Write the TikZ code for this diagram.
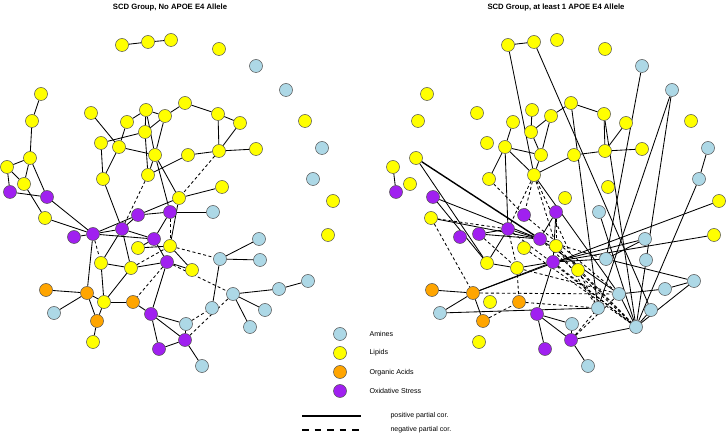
\documentclass[tikz,border=0pt]{standalone}
\usepackage{fontspec}
\setmainfont{Liberation Sans}
\pgfdeclarelayer{bg}
\pgfsetlayers{bg,main}
\definecolor{amn}{HTML}{ADD8E6}
\definecolor{lip}{HTML}{FFFF00}
\definecolor{org}{HTML}{FFA500}
\definecolor{oxs}{HTML}{A020F0}
\definecolor{rim}{HTML}{505050}
\tikzset{
  nd/.style={circle,draw=rim,line width=0.5pt,minimum size=13pt,inner sep=0pt},
  edge/.style={black,line width=0.85pt},
  nedge/.style={black,line width=0.85pt,dash pattern=on 3pt off 2.5pt},
  ttl/.style={font=\bfseries\fontsize{7.7}{8}\selectfont,anchor=north},
  leg/.style={font=\fontsize{7.1}{8}\selectfont,anchor=west},
  legs/.style={font=\fontsize{7}{8}\selectfont,anchor=west}
}
\newcommand\placenodes[1]{%
  \foreach \n/\x/\y/\c in {T1/122/45/lip,T2/148/42/lip,T3/171/40/lip,T4/219/49/lip,
    BTa/256/66/amn,BTb/286/90/amn,YIa/305/121/lip,BBa/322/148/amn,BBb/313/179/amn,
    YRa/333/201/lip,YRb/328/235/lip,
    A/41/94/lip,B/32/121/lip,C/30/158/lip,D/7/167/lip,E/24/184/lip,F/10/192/oxs,G/47/197/oxs,H/45/218/lip,
    I/91/113/lip,J/101/143/lip,K/103/179/lip,L/119/147/lip,M/127/122/lip,N/146/110/lip,O/165/116/lip,
    P/145/132/lip,Q/155/155/lip,R/148/175/lip,S/185/103/lip,T/188/155/lip,U/218/114/lip,V/240/123/lip,
    W/219/151/lip,X/256/149/lip,Y/179/198/lip,Z/222/187/lip,
    Pa/138/215/oxs,Pb/170/212/oxs,Ba/213/212/amn,Pd/74/237/oxs,Pe/93/234/oxs,Pc/122/229/oxs,
    Pf/154/239/oxs,La/138/248/lip,Yb/170/246/lip,Pg/167/262/oxs,Yc/101/263/lip,Yd/131/268/lip,
    Ye/192/270/lip,Oa/46/290/org,Ob/87/293/org,Yf/104/302/lip,Oc/133/302/org,Bb/54/313/amn,
    Od/97/321/org,Yg/93/342/lip,Ph/151/314/oxs,Bc/186/324/amn,Pi/185/340/oxs,Pj/159/349/oxs,
    Bd/202/366/amn,Be/212/308/amn,Bf/220/259/amn,Bg/259/239/amn,Bh/260/260/amn,Bi/233/294/amn,
    Bj/279/289/amn,Bk/308/281/amn,Bl/265/310/amn,Bm/250/327/amn}
  {\node[nd,fill=\c] (#1\n) at (\x,\y) {};}%
}
\begin{document}
\begin{tikzpicture}[x=1pt,y=-1pt]
\useasboundingbox (0,0) rectangle (726,435);
\node[ttl] at (170,0.5) {SCD Group, No APOE E4 Allele};
\node[ttl] at (556,0.5) {SCD Group, at least 1 APOE E4 Allele};
% ---------- left graph ----------
\placenodes{l}
\begin{pgfonlayer}{bg}
\foreach \a/\b in {T1/T2,T2/T3,A/B,B/C,C/D,C/E,C/G,D/E,D/F,F/G,E/H,G/Pe,H/Pe,
  I/L,J/K,J/P,L/K,L/M,M/N,N/O,N/P,N/Q,O/P,O/Q,O/S,S/U,U/V,U/W,V/W,W/X,W/T,T/R,L/Q,P/R,Q/R,Q/Y,Q/Pb,K/Pc,
  Y/Z,Y/Pa,Pa/Pb,Pb/Ba,Pe/Pa,Pd/Pe,Pe/Pc,Pe/Pf,Pc/Pa,Pc/Yc,Pc/Yd,Pc/Pf,Pe/Ob,
  Pf/La,La/Yb,Pb/Pf,Y/Yb,Yb/Ye,Pf/Pg,Pg/Yd,Yd/Yc,Yd/Yf,Yc/Yf,Pg/Ph,Pg/Ye,
  Ob/Oa,Ob/Bb,Ob/Od,Ob/Yf,Yf/Od,Yf/Oc,Oc/Ph,Od/Yg,
  Ph/Bc,Ph/Pi,Ph/Pj,Pj/Pi,Pi/Bd,Pi/Bc,Bf/Be,Bf/Bg,Bf/Bh,Bi/Bj,Bj/Bk,Bi/Bl,Bi/Bm}
  {\draw[edge] (l\a) -- (l\b);}
\foreach \a/\b in {W/Y,R/Pc,Pe/Yc,Pb/Yb,Yb/Bf,Yd/Yb,Pg/Oc,Pg/Bi,Bc/Be,Pi/Bi}
  {\draw[nedge] (l\a) -- (l\b);}
\end{pgfonlayer}
% ---------- right graph ----------
\begin{scope}[xshift=386pt]
\placenodes{r}
\begin{pgfonlayer}{bg}
\foreach \a/\b in {T1/T2,T1/R,T2/Bl,D/F,N/P,M/L,L/Q,L/R,L/K,L/Pc,Q/R,P/Q,P/O,O/S,O/Q,S/U,U/W,V/W,W/X,T/W,T/R,
  S/Be,U/Bm,BTa/Bf,BTb/Be,BTb/Bm,BBa/BBb,BBb/Bm,YRa/Ob,YRb/Pg,Bf/Bg,Bf/Bk,Bk/Bj,Bj/Bi,Bk/Bm,Bl/Bm,Bi/Bm,
  C/Yc,G/Yc,G/Pf,H/Pf,Pe/Pc,Pe/Pf,Pc/Yc,Pc/Pf,Yc/Yd,Pg/Ph,Ob/Pg,Oa/Ob,Ob/Od,Bb/Ob,Bb/Be,
  Ph/Pi,Ph/Bc,Ph/Pj,Pi/Bd,Pi/Bc,Pi/Bm,Pf/Bi,Pg/Bf,Pg/Bg,Pb/Pg,Pb/Pf,R/Bi,Yd/Pg,Ba/Bm}
  {\draw[edge] (r\a) -- (r\b);}
\draw[edge,line width=1.4pt] (rC) -- (rPf);
\foreach \a/\b in {H/Pc,H/Ob,Pe/Yd,Pc/Yd,Yd/Oc,Ob/Bi,Od/Oc,Pi/Be,Pi/Bi,Pb/Yb,R/Pa,R/Pc,R/Yb,R/Ye,K/Pa,
  Pc/Bm,Yb/Bm,Ye/Bm,Pf/Bm,La/Bm,Yd/Bi,Pf/Bf,Yb/Be,Pa/Bi,Oc/Be,Ye/Be,Pg/Bm}
  {\draw[nedge] (r\a) -- (r\b);}
\end{pgfonlayer}
\end{scope}
% ---------- legend ----------
\node[nd,fill=amn] (k1) at (340,334) {};
\node[nd,fill=lip] (k2) at (340,353) {};
\node[nd,fill=org] (k3) at (340,372) {};
\node[nd,fill=oxs] (k4) at (340,391) {};
\node[leg] (t1) at (366,334) {Amines};
\node[leg] (t2) at (366,353) {Lipids};
\node[leg] (t3) at (366,373) {Organic Acids};
\node[leg] (t4) at (366,391) {Oxidative Stress};
\coordinate (s1) at (302,416); \coordinate (s2) at (361,416);
\coordinate (d1) at (302,430); \coordinate (d2) at (361,430);
\draw[black,line width=1.2pt] (s1) -- (s2);
\draw[black,line width=1.2pt,dash pattern=on 6.5pt off 6pt] (d1) -- (d2);
\node[legs] (t5) at (387,416) {positive partial cor.};
\node[legs] (t6) at (387,430) {negative partial cor.};
\end{tikzpicture}
\end{document}
